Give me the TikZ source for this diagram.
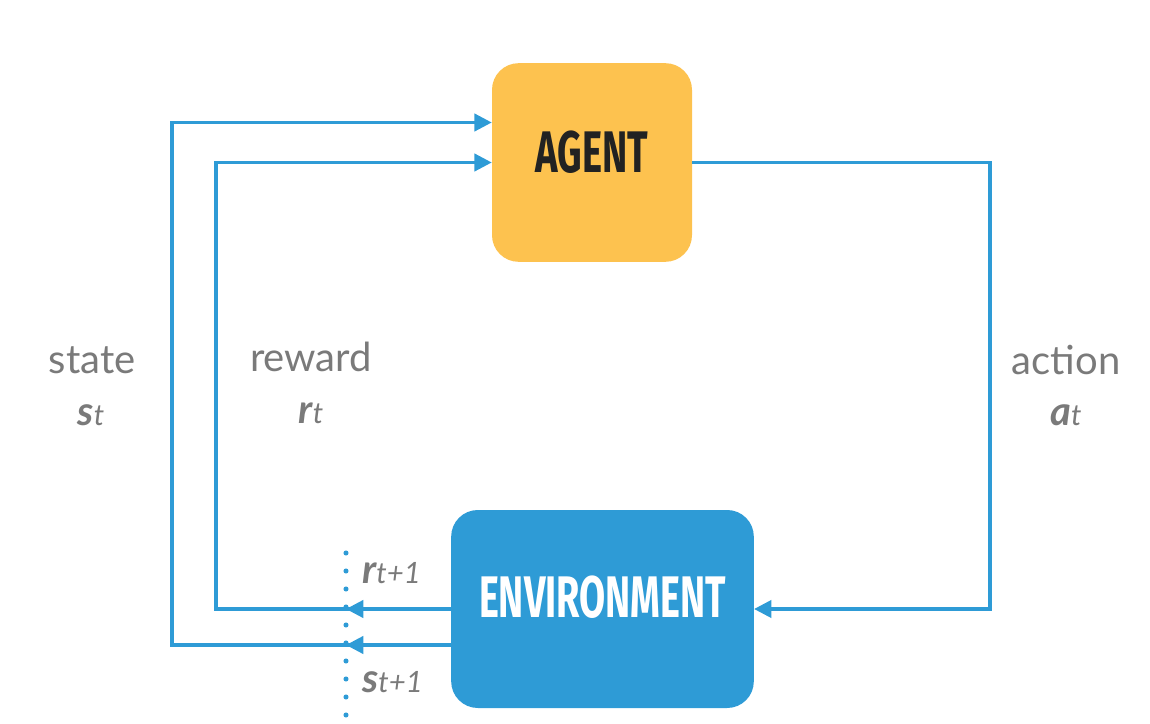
\documentclass[tikz,border=0pt]{standalone}
\usepackage{fontspec}
\setmainfont{Lato}
\newfontfamily\boxfont{Fira Sans}
\usetikzlibrary{arrows.meta}
\definecolor{agentyellow}{HTML}{FDC24F}
\definecolor{envblue}{HTML}{2E9BD6}
\definecolor{labelgray}{HTML}{7A7A7A}
\definecolor{agentink}{HTML}{222222}
\newcommand{\varlbl}[2]{{\bfseries\itshape #1}{\itshape\fontsize{22}{26}\selectfont #2}}

\begin{document}
\begin{tikzpicture}[x=0.75pt,y=-0.75pt,
    box/.style={rounded corners=20pt,inner sep=0pt},
    boxtext/.style={font=\boxfont\bfseries\fontsize{44}{50}\selectfont,inner sep=0pt},
    flow/.style={draw=envblue,line width=2.4pt},
    arrowed/.style={-{Triangle[length=13pt,width=13pt]}},
    cutline/.style={draw=envblue,line width=3.8pt,line cap=round,dash pattern=on 0pt off 13.5pt},
    lbl/.style={text=labelgray,font=\fontsize{30}{36}\selectfont,inner sep=0pt}]
    \useasboundingbox (0,0) rectangle (1150,724);
    \node[box,fill=agentyellow,minimum width=150pt,minimum height=149pt] (agent) at (592,162.5) {};
    \node[box,fill=envblue,minimum width=227pt,minimum height=148.5pt] (env) at (602.5,609) {};
    \node[boxtext,text=agentink] (agentname) at ([yshift=8pt]agent) {\scalebox{0.65}[1]{AGENT}};
    \node[boxtext,text=white] (envname) at ([yshift=9pt]env) {\scalebox{0.645}[1]{ENVIRONMENT}};

    \coordinate (sout) at ([yshift=-27pt]env.west);
    \coordinate (sin) at ([yshift=30pt]agent.west);
    \coordinate (sleft) at (172,400);
    \coordinate (rleft) at (216,400);
    \coordinate (aright) at (990,400);
    \coordinate (cuttop) at (346,553);
    \coordinate (cutbot) at (346,716);

    \draw[flow,arrowed] (sout) -| (sleft) |- (sin);
    \draw[flow,arrowed] (env.west) -| (rleft) |- (agent.west);
    \draw[flow,arrowed] (agent.east) -| (aright) |- (env.east);
    \draw[flow,arrowed] (env.west) -- (cuttop |- env.west);
    \draw[flow,arrowed] (sout) -- (cuttop |- sout);
    \draw[cutline] (cuttop) -- (cutbot);

    \node[lbl] (state) at (92,360) {state};
    \node[lbl] (st) at (91,415) {\varlbl{s}{t}};
    \node[lbl] (reward) at (311,357) {reward};
    \node[lbl] (rt) at (311,413) {\varlbl{r}{t}};
    \node[lbl] (action) at (1066,360) {action};
    \node[lbl] (at) at (1066,415) {\varlbl{a}{t}};
    \node[lbl,anchor=west] (rnext) at (362,573) {\varlbl{r}{t+1}};
    \node[lbl,anchor=west] (snext) at (362,682) {\varlbl{s}{t+1}};
\end{tikzpicture}
\end{document}
